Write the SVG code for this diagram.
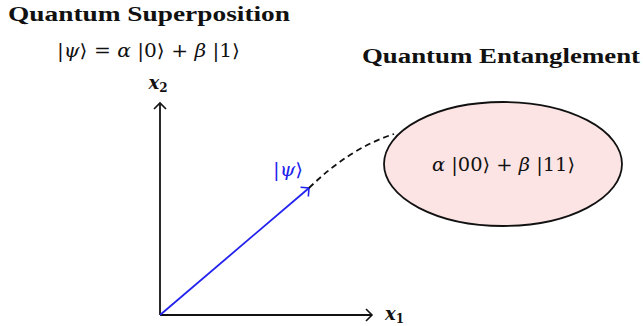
<svg xmlns="http://www.w3.org/2000/svg" width="643" height="326" viewBox="0 0 643 326">
<style>
.title{font-family:"Liberation Serif","DejaVu Serif",serif;font-weight:bold;font-size:20px;fill:#111}
.math{font-family:"DejaVu Serif","Liberation Serif",serif;font-size:18px;fill:#111}
.it{font-style:italic}
.axis{stroke:#111;stroke-width:1.8;fill:none}
.vec{stroke:#2222ee;stroke-width:1.8;fill:none}
.dash{stroke:#111;stroke-width:1.8;fill:none;stroke-dasharray:6 4}
</style>
<defs>
<marker id="chev" viewBox="-8 -7 10 14" markerWidth="10" markerHeight="14" refX="0" refY="0" orient="auto" markerUnits="userSpaceOnUse">
<path d="M-6,-6 Q-1,-1 0,0 Q-1,1 -6,6" fill="none" stroke="#111" stroke-width="1.6"/>
</marker>
<marker id="chevb" viewBox="-8 -7 10 14" markerWidth="10" markerHeight="14" refX="0" refY="0" orient="auto" markerUnits="userSpaceOnUse">
<path d="M-6,-6 Q-1,-1 0,0 Q-1,1 -6,6" fill="none" stroke="#2222ee" stroke-width="1.6"/>
</marker>
</defs>
<rect width="643" height="326" fill="#fff"/>
<g id="superposition-title">
<text class="title" x="8" y="21" textLength="282" lengthAdjust="spacingAndGlyphs">Quantum Superposition</text>
<text class="math" x="57" y="57" textLength="183" lengthAdjust="spacingAndGlyphs">|<tspan class="it">ψ</tspan>⟩ = <tspan class="it">α</tspan> |0⟩ + <tspan class="it">β</tspan> |1⟩</text>
</g>
<g id="entanglement-title">
<text class="title" x="362" y="63" textLength="278" lengthAdjust="spacingAndGlyphs">Quantum Entanglement</text>
</g>
<g id="connectors">
<line class="axis" x1="160" y1="315" x2="160" y2="103" marker-end="url(#chev)"/>
<line class="axis" x1="160" y1="315" x2="372" y2="315" marker-end="url(#chev)"/>
<line class="vec" x1="160" y1="315" x2="309" y2="188" marker-end="url(#chevb)"/>
<path class="dash" d="M309,188 Q350,148 394,134"/>
</g>
<g id="axis-labels">
<text class="math it" x="158" y="89" text-anchor="middle" font-weight="bold">x<tspan font-size="12" dy="3" font-style="normal">2</tspan></text>
<text class="math it" x="385" y="320" font-weight="bold">x<tspan font-size="12" dy="3" font-style="normal">1</tspan></text>
<text class="math" x="273" y="176" textLength="30" lengthAdjust="spacingAndGlyphs" style="fill:#2222ee">|<tspan class="it">ψ</tspan>⟩</text>
</g>
<g id="entangled-state">
<ellipse cx="503" cy="164" rx="119" ry="62" fill="#fde4e4" stroke="#111" stroke-width="1.8"/>
<text class="math" x="432" y="171" textLength="143" lengthAdjust="spacingAndGlyphs"><tspan class="it">α</tspan> |00⟩ + <tspan class="it">β</tspan> |11⟩</text>
</g>
</svg>
